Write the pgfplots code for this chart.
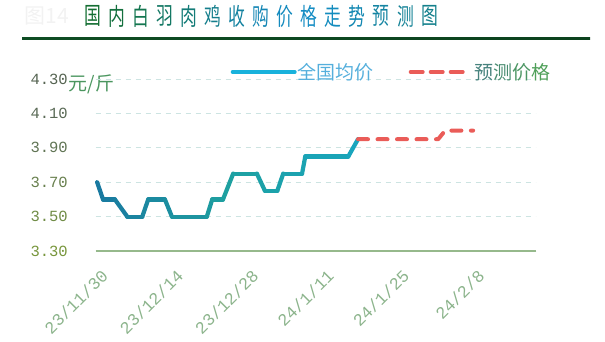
\documentclass[border=0pt]{standalone}
\usepackage{pgfplots}
\pgfplotsset{compat=1.18}
\usepackage{fontspec}
\setmainfont{Liberation Serif}
\newfontfamily\cjk{Noto Sans CJK SC}
\newfontfamily\tickfont{Liberation Mono}
\definecolor{gridcol}{RGB}{205,228,226}
\definecolor{basecol}{RGB}{150,185,140}
\definecolor{xtcol}{RGB}{140,180,140}
\definecolor{fcred}{RGB}{234,92,88}
\definecolor{legblue}{RGB}{24,178,220}
\definecolor{legtxt}{RGB}{85,175,220}
\definecolor{ylab}{RGB}{75,150,95}
\definecolor{y1}{RGB}{120,150,60}
\definecolor{y2}{RGB}{112,140,70}
\definecolor{y3}{RGB}{104,128,78}
\definecolor{y4}{RGB}{96,116,84}
\definecolor{y5}{RGB}{90,106,86}
\definecolor{y6}{RGB}{86,100,82}
\definecolor{t1}{RGB}{20,110,50}
\definecolor{t2}{RGB}{20,112,62}
\definecolor{t3}{RGB}{20,118,80}
\definecolor{t4}{RGB}{20,120,100}
\definecolor{t5}{RGB}{20,124,120}
\definecolor{t6}{RGB}{20,126,140}
\definecolor{t7}{RGB}{20,130,160}
\definecolor{t8}{RGB}{20,134,180}
\definecolor{t9}{RGB}{20,138,190}
\definecolor{t10}{RGB}{20,140,195}
\definecolor{t11}{RGB}{20,140,190}
\definecolor{t12}{RGB}{20,136,178}
\definecolor{t13}{RGB}{20,132,162}
\definecolor{t14}{RGB}{20,130,150}
\definecolor{t15}{RGB}{20,128,140}
\definecolor{p1}{RGB}{70,130,125}
\definecolor{p2}{RGB}{72,140,112}
\definecolor{p3}{RGB}{76,150,100}
\definecolor{p4}{RGB}{80,160,90}
\begin{document}
\begin{tikzpicture}[x=1pt,y=1pt]
\useasboundingbox (0,0) rectangle (605,341);
\node[text=black!5, font=\fontsize{21}{21}\selectfont\cjk] at (47,325) {图14};
\foreach \ch/\col [count=\i from 0] in {国/t1,内/t2,白/t3,羽/t4,肉/t5,鸡/t6,收/t7,购/t8,价/t9,格/t10,走/t11,势/t12,预/t13,测/t14,图/t15}{
  \node[text=\col, inner sep=0pt, font=\fontsize{24}{24}\selectfont\cjk] at (92.5+\i*24.07, 325) {\scalebox{0.7}[1]{\ch}};
}
\shade[left color=t1!70!black, middle color=t9, right color=t1!60!black] (22,301.2) rectangle (590,303.7);
\node[text=ylab, font=\fontsize{19}{19}\selectfont\cjk] at (91.5,257) {元/斤};
\begin{axis}[
  at={(95.5pt,90pt)}, anchor=south west, scale only axis,
  width=440pt, height=172pt,
  xmin=-0.3, xmax=81.5, ymin=3.3, ymax=4.3,
  axis x line*=bottom, axis y line*=left,
  y axis line style={draw=none},
  x axis line style={draw=basecol, line width=1.6pt},
  ytick={3.3,3.5,3.7,3.9,4.1,4.3},
  yticklabels={\textcolor{y1}{3.30},\textcolor{y2}{3.50},\textcolor{y3}{3.70},\textcolor{y4}{3.90},\textcolor{y5}{4.10},\textcolor{y6}{4.30}},
  xtick={0,14,28,42,56,70},
  xticklabels={23/11/30,23/12/14,23/12/28,24/1/11,24/1/25,24/2/8},
  major tick length=0pt,
  ymajorgrids,
  grid style={gridcol, line width=1pt, dash pattern=on 5pt off 5pt},
  yticklabel style={font=\fontsize{15.5}{15.5}\selectfont\tickfont, anchor=east, inner sep=0pt, xshift=-27.5pt},
  xticklabel style={font=\fontsize{17}{17}\selectfont\tickfont, text=xtcol, rotate=45, anchor=east, inner sep=0pt, xshift=-10pt, yshift=-21pt},
  colormap={linecm}{rgb255=(25,120,160) rgb255=(30,160,160) rgb255=(25,165,190)},
  clip=false,
  legend style={at={(0.30,1.041)}, anchor=west, draw=none, fill=none,
    legend columns=2, font=\fontsize{19}{19}\selectfont\cjk,
    nodes={inner sep=1pt},
    /tikz/every even column/.append style={column sep=34pt}},
]
\addplot[mesh, point meta=x, line width=4.2pt, line cap=round, line join=round, forget plot] coordinates {
(0,3.70) (1.1,3.60) (3.3,3.60) (5.6,3.50) (8.4,3.50) (9.5,3.60) (12.6,3.60) (13.9,3.50)
(20.4,3.50) (21.4,3.60) (23.4,3.60) (25.3,3.75) (29.7,3.75) (31.2,3.65) (33.5,3.65)
(34.6,3.75) (38.1,3.75) (38.7,3.85) (46.7,3.85) (48.5,3.95)
};
\addplot[color=fcred, line width=4pt, dash pattern=on 10pt off 9.5pt, line cap=round, line join=round, forget plot] coordinates {
(48.5,3.95) (63.4,3.95) (64.7,4.00) (69.9,4.00)
};
\addlegendimage{legend image code/.code={\draw[line width=4pt, color=legblue, line cap=round] (0pt,0pt) -- (62pt,0pt);}}
\addlegendentry{\textcolor{legtxt}{全国均价}}
\addlegendimage{legend image code/.code={\draw[line width=4pt, color=fcred, line cap=round, dash pattern=on 12pt off 8pt] (0pt,0pt) -- (55pt,0pt);}}
\addlegendentry{\hspace{6pt}\textcolor{p1}{预}\textcolor{p2}{测}\textcolor{p3}{价}\textcolor{p4}{格}}
\end{axis}
\end{tikzpicture}
\end{document}
